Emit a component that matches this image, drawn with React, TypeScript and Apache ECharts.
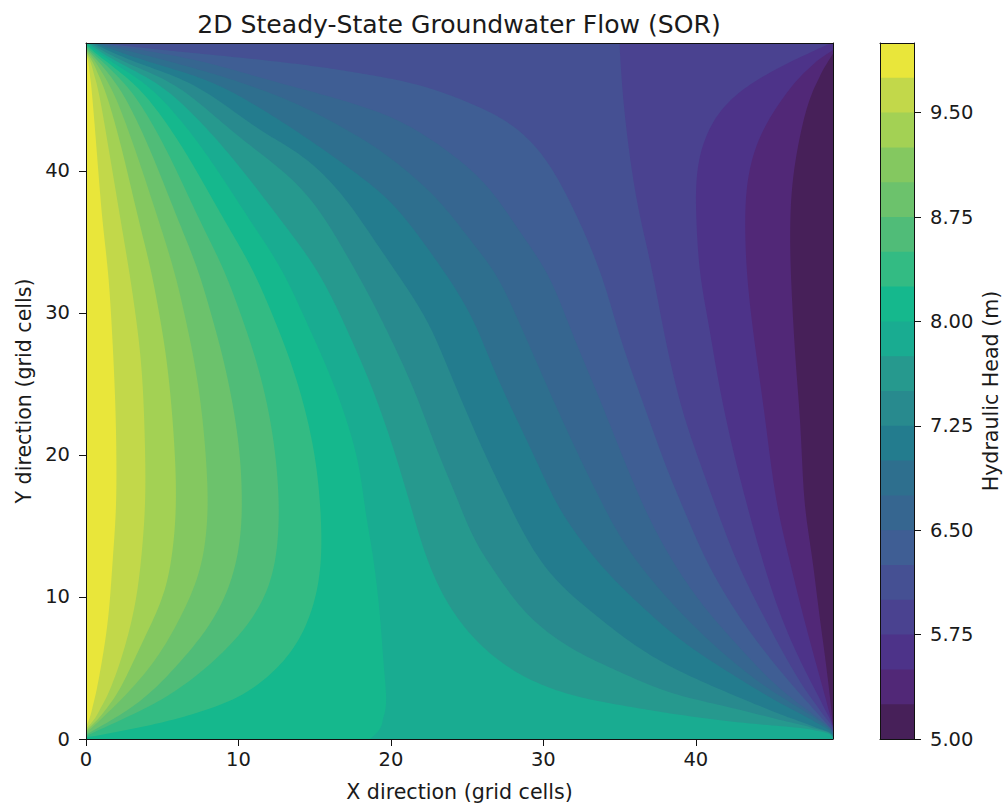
import React, { useEffect, useRef } from "react";
import * as echarts from "echarts";

const titleText = "2D Steady-State Groundwater Flow (SOR)";
const xName = "X direction (grid cells)";
const yName = "Y direction (grid cells)";
const barName = "Hydraulic Head (m)";
const xTicks = [0, 10, 20, 30, 40];
const yTicks = [0, 10, 20, 30, 40];
const barTicks = [5, 5.75, 6.5, 7.25, 8, 8.75, 9.5];

// lower edge of each filled band
const bandLevels = [5, 5.25, 5.5, 5.75, 6, 6.25, 6.5, 6.75, 7, 7.25, 7.5, 7.75, 8, 8.25, 8.5, 8.75, 9, 9.25, 9.5, 9.75];
const bandColors = ["#472059", "#512877", "#4d3389", "#4a4290", "#455093", "#3f5e94", "#366690", "#2e6f8e", "#237c8e", "#288a8e", "#26998e", "#19ac91", "#15b88d", "#33bb83", "#50bc78", "#6cc26c", "#84c860", "#a3d154", "#c2d84a", "#e9e63a"];

// contour lines [x, y], one per level
const c525 = [[49,48.25],[47.69,45.83],[46.84,42.52],[46.31,39],[46.18,35.48],[46.24,32.67],[46.51,27.18],[46.84,22.46],[47.17,16.12],[47.62,12.95],[48.02,9.43],[48.61,4.72],[48.95,1.48],[49,0.9]];
const c550 = [[49,48.5],[47.3,47.24],[45.52,44.85],[44.21,42.52],[43.42,39.71],[43.23,36.68],[43.36,32.67],[43.75,28.8],[44.41,23.66],[45.33,16.47],[46.18,12.46],[47.03,8.73],[48.15,4.29],[48.93,1.2],[49,0.8]];
const c575 = [[48.9,49],[46.84,48.01],[44.21,46.54],[42.05,44.85],[40.73,42.73],[40.08,40.2],[40.01,37.38],[40.28,32.67],[40.8,29.5],[41.59,24.57],[42.44,20.35],[43.36,16.47],[44.41,12.46],[45.72,8.24],[47.3,4.51],[48.93,1.13],[49,0.7]];
const c600 = [[34.99,49],[35.16,46.04],[35.49,42.52],[36.14,37.81],[37.13,33.02],[38.11,27.6],[39.16,22.95],[40.28,19.43],[41.39,16.12],[42.7,12.46],[44.41,8.73],[46.18,5.21],[47.69,2.6],[48.93,0.99],[49,0.6]];
const c625 = [[0.92,49],[3.98,48.63],[14.43,47.45],[19.28,46.63],[21.91,46.04],[25.19,44.78],[28.01,43.23],[29.98,41.12],[31.75,37.81],[33.72,32.95],[35.15,27.88],[36.54,23.66],[38.31,18.45],[39.1,16.47],[40.73,12.46],[42.9,8.52],[45.06,5.42],[47.3,2.6],[48.8,0.84],[49,0.5]];
const c650 = [[0.79,49],[7.22,47.8],[12.68,46.18],[14.43,45.69],[19.28,44.12],[21.45,43.02],[24.07,41.12],[26.3,39],[28.6,35.48],[30.24,32.88],[32.07,28.09],[33.72,23.87],[35.03,20.35],[36.54,16.47],[38.11,13.17],[40.28,9.65],[42.9,6.41],[45.72,3.31],[48.8,0.84],[49,0.42]];
const c675 = [[0.67,49],[5.13,47.8],[10.28,46.18],[14.43,44.42],[19.28,41.47],[20.79,40.2],[23.02,38.09],[25.19,35.13],[26.83,32.88],[28.34,29.5],[29.98,25.49],[31.75,21.26],[33.91,16.47],[35.49,13.45],[38.11,9.93],[41.39,6.41],[44.67,3.59],[48.8,0.77],[49,0.34]];
const c700 = [[0.54,49],[3.72,47.8],[8.42,46.18],[13.99,42.66],[19.28,38.53],[20.4,37.38],[22.11,34.99],[23.42,33.02],[25.19,29.99],[26.96,25.49],[29.12,20.56],[31.09,16.12],[32.21,14.36],[33.91,12.04],[36.14,9.65],[39.16,6.83],[42.44,4.51],[45.72,2.39],[48.8,0.63],[49,0.26]];
const c725 = [[0.41,49],[2.84,47.8],[6.89,46.18],[11.7,42.66],[14.43,40.9],[16.99,38.09],[18.76,35.34],[20.47,32.67],[22.37,29.5],[24.07,25.27],[26.04,20.35],[27.94,16.12],[29.12,13.66],[30.9,11.05],[32.86,9.22],[35.68,6.83],[38.11,5.21],[42.44,3.1],[46.84,1.2],[48.8,0.49],[49,0.18]];
const c750 = [[0.28,49],[2.18,47.8],[5.68,46.18],[9.73,42.66],[14.43,38.44],[17.65,33.02],[18.63,31.12],[19.94,28.3],[21.45,24.78],[23.02,20.35],[24.66,16.12],[25.39,14.15],[26.96,11.55],[28.93,8.73],[31.75,6.41],[35.03,4.72],[38.11,3.31],[42.44,2.18],[46.84,0.99],[48.8,0.49],[49,0.1]];
const c775 = [[0.15,49],[1.75,47.8],[4.7,46.18],[8.2,42.66],[12.92,36.33],[15.15,33.02],[16.53,30.2],[17.71,27.39],[18.83,24.57],[20.2,20.35],[21.38,16.12],[22.43,12.46],[23.88,9.22],[25.84,6.62],[28.47,4.5],[31.75,3.1],[35.03,2.39],[38.11,1.83],[42.44,1.2],[48.8,0.4],[49,0.03]];
const c800 = [[0.03,49],[1.42,47.8],[3.89,46.18],[6.89,42.66],[10.87,36.33],[12.86,33.02],[14.1,30.2],[15.3,27.39],[16.4,24.57],[17.3,21.75],[17.97,18.94],[18.3,16.12],[18.75,13.45],[19.2,9.65],[19.55,4.72],[19.68,1.2],[18.63,0]];
const c825 = [[0,48.9],[1.14,47.8],[3.17,46.18],[5.73,42.66],[9.18,36.33],[10.95,33.02],[12.1,30.2],[13.15,27.39],[14.02,24.57],[14.69,21.75],[15.15,18.94],[15.38,16.12],[15.46,13.45],[15.13,10.14],[13.82,6.62],[12.07,4.5],[10.1,2.96],[6.17,1.48],[3.32,0.77],[0,0.1]];
const c850 = [[0,48.77],[0.92,47.8],[2.58,46.18],[4.7,42.66],[7.54,36.33],[9.05,33.02],[10.05,30.2],[10.95,27.39],[11.68,24.57],[12.2,21.75],[12.53,18.94],[12.66,16.12],[12.59,13.87],[12.07,10.84],[10.76,8.24],[8.6,5.7],[5.51,3.1],[0,0.2]];
const c875 = [[0,48.64],[0.72,47.8],[2.01,46.18],[3.72,42.66],[6.12,36.33],[7.35,33.02],[8.13,30.2],[8.86,27.39],[9.45,24.57],[9.9,21.75],[10.17,18.94],[10.23,16.12],[10.1,13.87],[9.45,10.84],[8.13,8.03],[6.17,5.42],[3.54,2.6],[0,0.3]];
const c900 = [[0,48.51],[0.54,47.8],[1.53,46.18],[2.84,42.66],[4.81,36.33],[5.77,33.02],[6.4,30.2],[6.96,27.39],[7.41,24.57],[7.72,21.75],[7.92,18.94],[8,16.12],[7.81,13.66],[7.35,11.33],[6.17,8.52],[4.66,5.7],[2.43,2.89],[0,0.42]];
const c925 = [[0,48.38],[0.39,47.8],[1.09,46.18],[2.08,42.66],[3.5,36.33],[4.26,33.02],[4.76,30.2],[5.2,27.39],[5.51,24.57],[5.73,21.75],[5.88,18.94],[5.9,16.12],[5.71,13.45],[5.18,10.35],[4.33,8.24],[3.08,5.42],[1.77,2.6],[0,0.55]];
const c950 = [[0,48.26],[0.26,47.8],[0.72,46.18],[1.31,42.66],[2.3,36.33],[2.82,33.02],[3.21,30.2],[3.54,27.39],[3.74,24.57],[3.84,21.75],[3.9,18.94],[3.87,16.12],[3.74,14.15],[3.41,10.63],[2.89,7.81],[2.03,4.72],[0.92,1.9],[0,0.7]];
const c975 = [[0,48.13],[0.15,47.8],[0.33,46.18],[0.61,42.66],[1.09,36.33],[1.44,33.02],[1.77,27.39],[1.97,21.75],[1.97,16.12],[1.77,12.95],[1.44,8.24],[0.92,4.72],[0.39,1.9],[0,0.85]];

const contours = [c525, c550, c575, c600, c625, c650, c675, c700, c725, c750, c775, c800, c825, c850, c875, c900, c925, c950, c975];

const DOMAIN_MAX = 49;
const FONT = "DejaVu Sans";
const INK = "#1a1a1a";

// smooth a polyline in screen space (centripetal Catmull-Rom, then a short moving average)
function smooth(pts: number[][]): number[][] {
  const out: number[][] = [];
  const at = (i: number) => pts[Math.max(0, Math.min(pts.length - 1, i))];
  for (let i = 0; i < pts.length - 1; i++) {
    const p0 = i === 0 ? [2 * pts[0][0] - pts[1][0], 2 * pts[0][1] - pts[1][1]] : at(i - 1);
    const p1 = at(i), p2 = at(i + 1);
    const p3 = i + 2 >= pts.length ? [2 * p2[0] - p1[0], 2 * p2[1] - p1[1]] : at(i + 2);
    const dt = (a: number[], b: number[]) => Math.max(1e-3, Math.sqrt(Math.hypot(a[0] - b[0], a[1] - b[1])));
    const t0 = 0, t1 = t0 + dt(p0, p1), t2 = t1 + dt(p1, p2), t3 = t2 + dt(p2, p3);
    const n = Math.max(2, Math.ceil(Math.hypot(p2[0] - p1[0], p2[1] - p1[1]) / 4));
    for (let k = 0; k < n; k++) {
      const t = t1 + ((t2 - t1) * k) / n;
      const mix = (a: number[], b: number[], ta: number, tb: number) => [
        (a[0] * (tb - t) + b[0] * (t - ta)) / (tb - ta),
        (a[1] * (tb - t) + b[1] * (t - ta)) / (tb - ta),
      ];
      const a1 = mix(p0, p1, t0, t1), a2 = mix(p1, p2, t1, t2), a3 = mix(p2, p3, t2, t3);
      const b1 = mix(a1, a2, t0, t2), b2 = mix(a2, a3, t1, t3);
      out.push(mix(b1, b2, t1, t2));
    }
  }
  out.push(pts[pts.length - 1]);
  return out.map((_, i) => {
    const w = Math.min(i, out.length - 1 - i, 7);
    let sx = 0, sy = 0;
    for (let j = i - w; j <= i + w; j++) { sx += out[j][0]; sy += out[j][1]; }
    return [sx / (2 * w + 1), sy / (2 * w + 1)];
  });
}

function renderBand(_params: any, api: any) {
  const idx = api.value(0);
  const fill = bandColors[idx];
  if (idx === 0) {
    const corners = [[0, 0], [DOMAIN_MAX, 0], [DOMAIN_MAX, DOMAIN_MAX], [0, DOMAIN_MAX]];
    return { type: "polygon", shape: { points: corners.map((p) => api.coord(p)) }, style: { fill } };
  }
  const line = contours[idx - 1];
  const first = line[0], last = line[line.length - 1];
  const closing: number[][] = [];
  if (last[0] === DOMAIN_MAX) closing.push([DOMAIN_MAX, 0]);
  if (!(first[0] === 0 && last[0] === 0)) {
    closing.push([0, 0], [0, DOMAIN_MAX]);
    if (first[0] > 40 && first[1] < DOMAIN_MAX) closing.push([DOMAIN_MAX, DOMAIN_MAX]);
  }
  const points = smooth(line.map((p) => api.coord(p))).concat(closing.map((p) => api.coord(p)));
  return { type: "polygon", shape: { points }, style: { fill } };
}

// each band is painted from its lower edge to the top of the bar, so no seams show
function renderBarBand(_params: any, api: any) {
  const idx = api.value(0);
  const a = api.coord([0, 10]);
  const b = api.coord([1, bandLevels[idx]]);
  return { type: "rect", shape: { x: a[0], y: a[1], width: b[0] - a[0], height: b[1] - a[1] }, style: { fill: bandColors[idx] } };
}

const frameLine = { show: true, onZero: false, lineStyle: { color: "#111", width: 1 } };
const tickStyle = { length: 7, lineStyle: { color: "#111", width: 1 } };
const labelStyle = { color: INK, fontFamily: FONT, fontSize: 19.5 };
const nameStyle = { color: INK, fontFamily: FONT, fontSize: 20.6 };

function frameAxis(gridIndex: number, position: string, max: number, min = 0) {
  return {
    type: "value", gridIndex, position, min, max, z: 6,
    axisLine: frameLine, axisTick: { show: false }, axisLabel: { show: false }, splitLine: { show: false },
  };
}

export default function App() {
  const ref = useRef<HTMLDivElement>(null);
  useEffect(() => {
    const chart = echarts.init(ref.current!, null, { renderer: "svg" });
    chart.setOption({
      animation: false,
      backgroundColor: "#ffffff",
      title: {
        text: titleText, left: 454, top: 7, textAlign: "center",
        textStyle: { color: INK, fontFamily: FONT, fontSize: 25.1, fontWeight: "normal" },
      },
      grid: [
        { left: 86, top: 43, width: 747, height: 696, outerBoundsMode: "none" },
        { left: 880, top: 43, width: 34, height: 696, outerBoundsMode: "none" },
      ],
      xAxis: [
        {
          type: "value", gridIndex: 0, position: "bottom", min: 0, max: DOMAIN_MAX, z: 6,
          name: xName, nameLocation: "middle", nameGap: 42, nameTextStyle: nameStyle,
          axisLine: frameLine,
          axisTick: { ...tickStyle, customValues: xTicks },
          axisLabel: { ...labelStyle, margin: 10, customValues: xTicks },
          splitLine: { show: false },
        },
        frameAxis(0, "top", DOMAIN_MAX),
        frameAxis(1, "bottom", 1),
        frameAxis(1, "top", 1),
      ],
      yAxis: [
        {
          type: "value", gridIndex: 0, position: "left", min: 0, max: DOMAIN_MAX, z: 6,
          name: yName, nameLocation: "middle", nameGap: 52, nameRotate: 90, nameTextStyle: nameStyle,
          axisLine: frameLine,
          axisTick: { ...tickStyle, customValues: yTicks },
          axisLabel: { ...labelStyle, margin: 16, customValues: yTicks },
          splitLine: { show: false },
        },
        frameAxis(0, "right", DOMAIN_MAX),
        {
          type: "value", gridIndex: 1, position: "right", min: 5, max: 10, z: 6,
          name: barName, nameLocation: "middle", nameGap: 66, nameRotate: 90, nameTextStyle: nameStyle,
          axisLine: frameLine,
          axisTick: { ...tickStyle, customValues: barTicks },
          axisLabel: { ...labelStyle, margin: 16, customValues: barTicks, formatter: (v: number) => v.toFixed(2) },
          splitLine: { show: false },
        },
        frameAxis(1, "left", 10, 5),
      ],
      series: [
        {
          type: "custom", xAxisIndex: 0, yAxisIndex: 0, z: 2, clip: true, silent: true,
          renderItem: renderBand, data: bandLevels.map((_, i) => [i]), encode: { x: -1, y: -1 },
        },
        {
          type: "custom", xAxisIndex: 2, yAxisIndex: 2, z: 2, clip: true, silent: true,
          renderItem: renderBarBand, data: bandLevels.map((_, i) => [i]), encode: { x: -1, y: -1 },
        },
      ],
    });
    return () => chart.dispose();
  }, []);
  return <div ref={ref} style={{ position: "fixed", left: 0, top: 0, width: 1004, height: 805 }} />;
}
